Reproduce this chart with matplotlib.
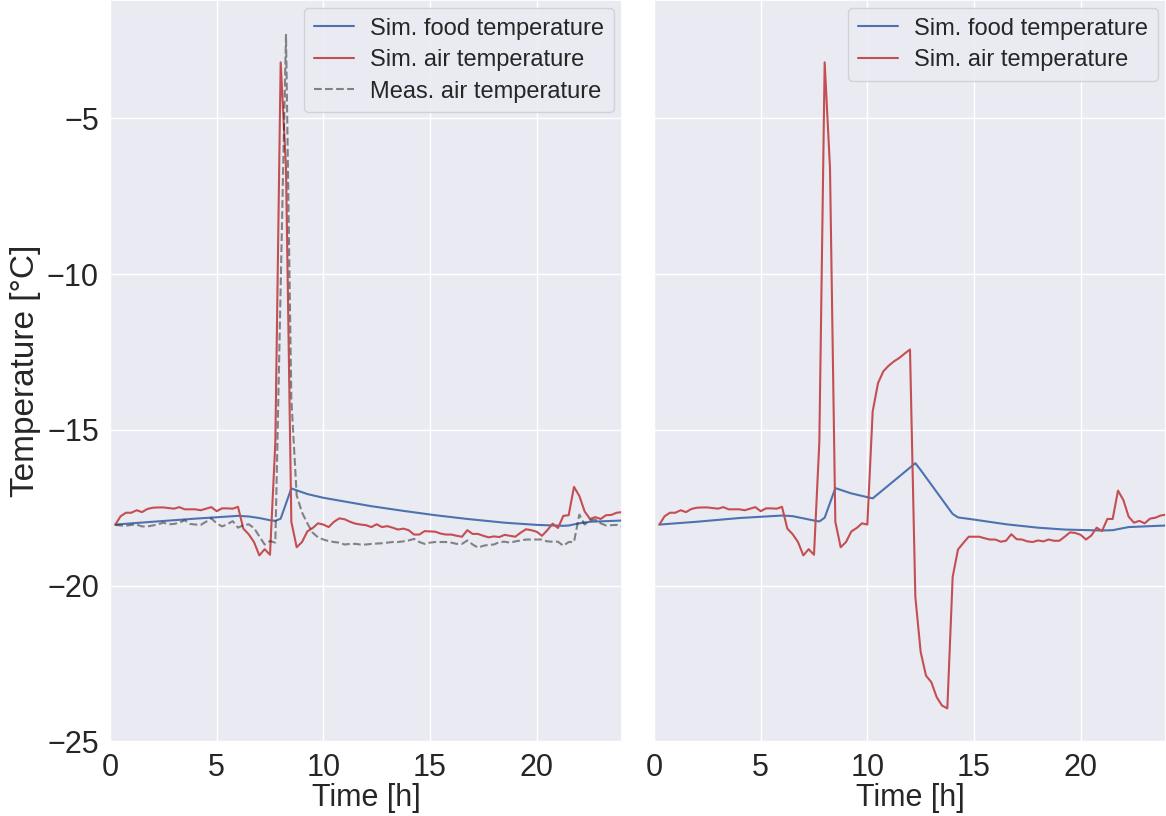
import numpy as np
import matplotlib
matplotlib.use('Agg')
import matplotlib.pyplot as plt
import seaborn as sns

sns.set_theme(style='darkgrid')
plt.rcParams['font.family'] = ['Liberation Sans', 'DejaVu Sans']

# time grid of the air temperatures (15 min steps)
time = np.arange(1, 97) * 0.25

# simulated air temperature, identical in both runs until 10 h
air_start = [-18.04, -17.77, -17.66, -17.66, -17.58, -17.64, -17.54, -17.50,
             -17.49, -17.49, -17.51, -17.53, -17.48, -17.55, -17.55, -17.55,
             -17.58, -17.53, -17.48, -17.61, -17.52, -17.52, -17.53, -17.47,
             -18.17, -18.35, -18.60, -19.03, -18.83, -19.01, -15.40, -3.20,
             -6.60, -17.95, -18.77, -18.60, -18.26, -18.15, -18.00, -18.04]

air_rest_left = [-18.12, -17.95, -17.84, -17.87, -17.95, -18.01, -18.04, -18.06,
                 -18.12, -18.03, -18.12, -18.09, -18.14, -18.20, -18.17, -18.22,
                 -18.36, -18.36, -18.25, -18.26, -18.27, -18.33, -18.36, -18.36,
                 -18.40, -18.43, -18.22, -18.34, -18.34, -18.40, -18.45, -18.42,
                 -18.44, -18.37, -18.40, -18.43, -18.30, -18.19, -18.22, -18.27,
                 -18.40, -18.22, -18.01, -18.15, -17.76, -17.74, -16.83, -17.12,
                 -17.62, -17.86, -17.80, -17.86, -17.74, -17.73, -17.66, -17.64]

air_rest_right = [-14.41, -13.50, -13.12, -12.94, -12.80, -12.69, -12.55, -12.42,
                  -20.36, -22.13, -22.89, -23.10, -23.58, -23.85, -23.94, -19.72,
                  -18.84, -18.63, -18.43, -18.43, -18.43, -18.48, -18.52, -18.52,
                  -18.59, -18.56, -18.35, -18.51, -18.52, -18.58, -18.60, -18.55,
                  -18.58, -18.52, -18.56, -18.56, -18.43, -18.29, -18.31, -18.37,
                  -18.52, -18.39, -18.14, -18.25, -17.86, -17.86, -16.95, -17.25,
                  -17.79, -17.98, -17.92, -18.00, -17.85, -17.82, -17.75, -17.72]

air_left = air_start + air_rest_left
air_right = air_start + air_rest_right

# measured air temperature
air_meas = [-18.05, -18.07, -18.08, -18.05, -18.04, -18.10, -18.10, -18.07,
            -18.03, -17.98, -18.03, -18.02, -17.98, -17.90, -18.02, -18.04,
            -18.05, -17.95, -17.84, -18.00, -18.10, -18.03, -17.93, -18.14,
            -18.06, -18.03, -18.15, -18.42, -18.68, -18.57, -18.62, -10.40,
            -2.32, -14.00, -17.10, -17.65, -18.00, -18.30, -18.45, -18.52,
            -18.57, -18.60, -18.62, -18.68, -18.66, -18.66, -18.68, -18.68,
            -18.66, -18.65, -18.64, -18.62, -18.60, -18.60, -18.58, -18.55,
            -18.50, -18.60, -18.66, -18.62, -18.60, -18.60, -18.60, -18.62,
            -18.66, -18.66, -18.55, -18.68, -18.78, -18.72, -18.69, -18.68,
            -18.60, -18.59, -18.62, -18.58, -18.55, -18.52, -18.52, -18.52,
            -18.52, -18.58, -18.59, -18.59, -18.72, -18.60, -18.60, -17.72,
            -18.04, -17.90, -17.88, -18.00, -18.07, -18.06, -18.05, -18.10]

# simulated food temperature
food_time_left = [0.25, 2.0, 4.0, 6.0, 6.5, 7.0, 7.5, 7.75, 8.0, 8.5, 9.25, 10.0,
                  10.75, 12.25, 13.75, 15.25, 16.75, 18.5, 20.0, 21.25, 21.5,
                  22.0, 22.5, 24.0]
food_left = [-18.04, -17.95, -17.85, -17.76, -17.78, -17.83, -17.90, -17.92,
             -17.85, -16.88, -17.06, -17.18, -17.27, -17.45, -17.60, -17.74,
             -17.86, -17.98, -18.05, -18.08, -18.07, -18.00, -17.95, -17.91]

food_time_right = [0.25, 2.0, 4.0, 6.0, 6.5, 7.0, 7.5, 7.75, 8.0, 8.5, 9.25, 10.25,
                   12.25, 12.5, 14.0, 14.25, 15.0, 16.5, 18.0, 19.25, 21.0,
                   21.5, 22.25, 24.0]
food_right = [-18.04, -17.95, -17.83, -17.75, -17.77, -17.84, -17.91, -17.94,
              -17.82, -16.87, -17.04, -17.20, -16.07, -16.29, -17.70, -17.81,
              -17.88, -18.03, -18.14, -18.20, -18.23, -18.22, -18.12, -18.07]

fig = plt.figure(figsize=(11.66, 8.16), dpi=100)
ax1 = fig.add_axes([110 / 1166, 74 / 816, 512 / 1166, 742 / 816])
ax2 = fig.add_axes([654 / 1166, 74 / 816, 512 / 1166, 742 / 816], sharey=ax1)

ax1.plot(food_time_left, food_left, color='#4C72B0', lw=1.5, label='Sim. food temperature')
ax1.plot(time, air_left, color='#C44E52', lw=1.5, label='Sim. air temperature')
ax1.plot(time, air_meas, 'k--', alpha=0.5, lw=1.5, label='Meas. air temperature')

ax2.plot(food_time_right, food_right, color='#4C72B0', lw=1.5, label='Sim. food temperature')
ax2.plot(time, air_right, color='#C44E52', lw=1.5, label='Sim. air temperature')

for ax in (ax1, ax2):
    ax.set_xlim(0, 24)
    ax.set_xticks([0, 5, 10, 15, 20])
    ax.set_xlabel('Time [h]', fontsize=22, labelpad=0)
    ax.tick_params(labelsize=22, pad=2)
    ax.legend(loc='upper right', fontsize=17, borderaxespad=0.35,
              labelspacing=0.4, handlelength=1.7, handletextpad=0.7)

ax1.set_ylim(-25.02, -1.2)
ax1.set_yticks([-25, -20, -15, -10, -5])
ax1.set_ylabel('Temperature [°C]', fontsize=24, labelpad=4)
plt.setp(ax2.get_yticklabels(), visible=False)

fig.savefig('out.png', dpi=100)
